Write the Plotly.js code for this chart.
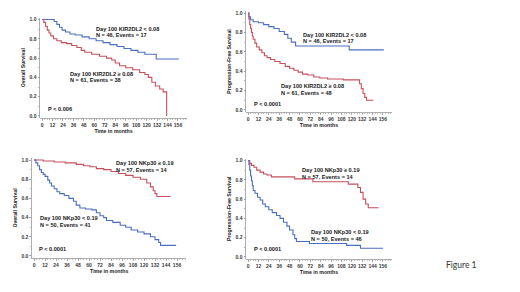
<!DOCTYPE html>
<html>
<head>
<meta charset="utf-8">
<script src="https://cdn.plot.ly/plotly-3.0.1.min.js"></script>
<style>html,body{margin:0;padding:0;background:#fff;}#chart{width:520px;height:292px;}</style>
</head>
<body>
<div id="chart"></div>
<script>
// ---- Data ----
// Panel A: Overall survival by Day 100 KIR2DL2
const osKirLowT  = [0,14,17,20,23,27,32,38,46,54,62,70,78,86,94,102,110,118,131,157];
const osKirLowS  = [1,0.98,0.95,0.92,0.89,0.87,0.85,0.84,0.82,0.80,0.78,0.76,0.74,0.72,0.70,0.68,0.66,0.64,0.59,0.59];
const osKirHighT = [0,2,4,6,8,10,13,17,22,28,34,40,45,49,57,66,74,80,84,89,96,104,112,118,122,126,130,135,139,143];
const osKirHighS = [1,0.97,0.93,0.89,0.86,0.83,0.80,0.78,0.76,0.75,0.73,0.71,0.68,0.66,0.64,0.62,0.60,0.58,0.55,0.52,0.50,0.48,0.45,0.43,0.40,0.35,0.31,0.28,0.25,0];
// Panel B: Progression-free survival by Day 100 KIR2DL2
const pfsKirLowT  = [0,1,3,6,12,18,24,30,36,42,46,50,55,117,157];
const pfsKirLowS  = [1,0.96,0.93,0.91,0.90,0.88,0.86,0.84,0.81,0.78,0.74,0.70,0.66,0.62,0.62];
const pfsKirHighT = [0,1,2,3,4,5,6,8,10,13,16,19,22,26,31,37,43,48,53,58,63,69,76,83,92,110,129,131,133,135,137,145];
const pfsKirHighS = [1,0.94,0.88,0.84,0.80,0.76,0.73,0.69,0.65,0.62,0.59,0.56,0.54,0.52,0.50,0.48,0.45,0.43,0.41,0.39,0.37,0.36,0.34,0.33,0.32,0.31,0.27,0.22,0.17,0.13,0.10,0.10];
// Panel C: Overall survival by Day 100 NKp30
const osNkHighT = [0,10,22,34,46,54,61,68,76,84,92,100,108,116,123,127,130,132,134,149];
const osNkHighS = [1,0.99,0.98,0.97,0.955,0.94,0.93,0.91,0.90,0.88,0.86,0.84,0.82,0.80,0.76,0.72,0.68,0.65,0.62,0.62];
const osNkLowT  = [0,2,4,6,8,10,12,15,17,19,22,25,28,33,38,43,46,50,56,63,68,72,76,79,86,94,100,106,113,120,127,132,136,138,155];
const osNkLowS  = [1,0.97,0.94,0.90,0.87,0.85,0.83,0.79,0.76,0.73,0.70,0.67,0.65,0.63,0.60,0.57,0.53,0.50,0.49,0.48,0.45,0.42,0.40,0.37,0.35,0.32,0.30,0.27,0.25,0.23,0.20,0.17,0.14,0.11,0.11];
// Panel D: Progression-free survival by Day 100 NKp30
const pfsNkHighT = [0,2,4,7,10,14,18,22,27,54,75,116,127,130,133,136,139,151];
const pfsNkHighS = [1,0.97,0.95,0.93,0.90,0.88,0.86,0.85,0.83,0.81,0.78,0.755,0.72,0.67,0.60,0.55,0.51,0.51];
const pfsNkLowT  = [0,1,2,3,4,5,6,8,11,14,17,20,24,28,33,37,41,45,48,52,54,56,71,114,130,156];
const pfsNkLowS  = [1,0.96,0.90,0.84,0.79,0.74,0.69,0.66,0.62,0.59,0.55,0.52,0.49,0.46,0.43,0.40,0.36,0.32,0.28,0.23,0.19,0.16,0.14,0.12,0.09,0.09];

const xTicks = [0,12,24,36,48,60,72,84,96,108,120,132,144,156];
const yTicks = [0,0.2,0.4,0.6,0.8,1.0];

const labels = {
  kirLow:  ['Day 100 KIR2DL2 < 0.08', 'N = 46, Events = 17'],
  kirHighOS: ['Day 100 KIR2DL2 \u2265 0.08', 'N = 61, Events = 38'],
  kirHighPFS: ['Day 100 KIR2DL2 \u2265 0.08', 'N = 61, Events = 48'],
  nkHigh: ['Day 100 NKp30 \u2265 0.19', 'N = 57, Events = 14'],
  nkLowOS: ['Day 100 NKp30 < 0.19', 'N = 50, Events = 41'],
  nkLowPFS: ['Day 100 NKp30 < 0.19', 'N = 50, Events = 46']
};
const pvals = ['P < 0.006', 'P < 0.0001', 'P < 0.0001', 'P < 0.0001'];

// ---- Styling / layout ----
const W = 520, H = 292;
const BLUE = '#4B6FC0', RED = '#C64F5E';
const FONT = 'Liberation Sans, Arial, sans-serif';
const fx = v => v / W, fy = v => 1 - v / H;

// pixel boxes for each panel: [left,right,top,bottom]
const boxes = [
  [40.3, 186.7, 17.6, 117.9],
  [246.3, 391.6, 11.1, 111.9],
  [32.2, 186.2, 158.1, 257.9],
  [246.3, 391.6, 158.6, 258.9]
];
const yTitles = ['Overall Survival', 'Progression-Free Survival', 'Overall Survival', 'Progression-Free Survival'];

const series = [
  [[osKirLowT, osKirLowS, BLUE], [osKirHighT, osKirHighS, RED]],
  [[pfsKirLowT, pfsKirLowS, BLUE], [pfsKirHighT, pfsKirHighS, RED]],
  [[osNkHighT, osNkHighS, RED], [osNkLowT, osNkLowS, BLUE]],
  [[pfsNkHighT, pfsNkHighS, RED], [pfsNkLowT, pfsNkLowS, BLUE]]
];

const traces = [];
const layout = {
  width: W, height: H,
  margin: {l: 0, r: 0, t: 0, b: 0},
  paper_bgcolor: '#fff', plot_bgcolor: '#fff',
  showlegend: false,
  font: {family: FONT, color: '#333'},
  annotations: []
};

boxes.forEach((b, i) => {
  const n = i + 1;
  const xa = 'xaxis' + (n === 1 ? '' : n), ya = 'yaxis' + (n === 1 ? '' : n);
  const xr = 'x' + (n === 1 ? '' : n), yr = 'y' + (n === 1 ? '' : n);
  series[i].forEach(s => {
    traces.push({
      x: s[0], y: s[1], xaxis: xr, yaxis: yr,
      type: 'scatter', mode: 'lines',
      line: {shape: 'hv', color: s[2], width: 1.1},
      hoverinfo: 'skip'
    });
  });
  layout[xa] = {
    domain: [fx(b[0]), fx(b[1])], anchor: yr,
    range: [-2, 166], tickvals: xTicks, ticktext: xTicks.map(String), tickangle: 0,
    showgrid: false, zeroline: false, showline: true, linecolor: '#9a9a9a', linewidth: 0.8,
    ticks: 'outside', ticklen: 2, tickwidth: 0.8, tickcolor: '#9a9a9a',
    minor: {dtick: 3, ticklen: 1.2, tickcolor: '#b0b0b0', ticks: 'outside', showgrid: false},
    tickfont: {size: 5, family: FONT, color: '#3a3a3a', weight: 'bold'},
    title: {text: 'Time in months', font: {size: 5.2, family: FONT, color: '#222', weight: 'bold'}, standoff: 2},
    fixedrange: true
  };
  layout[ya] = {
    domain: [fy(b[3]), fy(b[2])], anchor: xr,
    range: [-0.02, 1.02], tickvals: yTicks, ticktext: yTicks.map(v => v.toFixed(1)),
    showgrid: false, zeroline: false, showline: true, linecolor: '#9a9a9a', linewidth: 0.8,
    ticks: 'outside', ticklen: 2, tickwidth: 0.8, tickcolor: '#9a9a9a',
    minor: {dtick: 0.1, ticklen: 1.2, tickcolor: '#b0b0b0', ticks: 'outside', showgrid: false},
    tickfont: {size: 5, family: FONT, color: '#3a3a3a', weight: 'bold'},
    title: {text: yTitles[i], font: {size: 5.2, family: FONT, color: '#222', weight: 'bold'}, standoff: 3},
    fixedrange: true
  };
});

function note(text, x, y, size, extra) {
  layout.annotations.push(Object.assign({
    text: text, xref: 'paper', yref: 'paper', x: fx(x), y: fy(y),
    xanchor: 'left', yanchor: 'middle', showarrow: false,
    font: {size: size || 5.6, family: FONT, color: '#1a1a1a', weight: 'bold'}
  }, extra || {}));
}
// panel A
note(labels.kirLow[0], 94, 29); note(labels.kirLow[1], 94, 35.5);
note(labels.kirHighOS[0], 68, 74); note(labels.kirHighOS[1], 68, 80.5);
note(pvals[0], 46, 109);
// panel B
note(labels.kirLow[0], 301, 35); note(labels.kirLow[1], 301, 41.5);
note(labels.kirHighPFS[0], 279, 86); note(labels.kirHighPFS[1], 279, 92.5);
note(pvals[1], 252, 104);
// panel C
note(labels.nkHigh[0], 114, 163); note(labels.nkHigh[1], 114, 169.5);
note(labels.nkLowOS[0], 38, 218); note(labels.nkLowOS[1], 38, 224.5);
note(pvals[2], 37, 249);
// panel D
note(labels.nkHigh[0], 300, 170); note(labels.nkHigh[1], 300, 176.5);
note(labels.nkLowPFS[0], 309, 232); note(labels.nkLowPFS[1], 309, 238.5);
note(pvals[3], 252, 249);
// figure label
layout.annotations.push({
  text: 'Figure 1', xref: 'paper', yref: 'paper', x: fx(444), y: fy(265),
  xanchor: 'left', yanchor: 'middle', showarrow: false,
  font: {size: 8.5, family: 'Lato, Open Sans, sans-serif', color: '#333'}
});

Plotly.newPlot('chart', traces, layout, {staticPlot: true, displayModeBar: false});
</script>
</body>
</html>
